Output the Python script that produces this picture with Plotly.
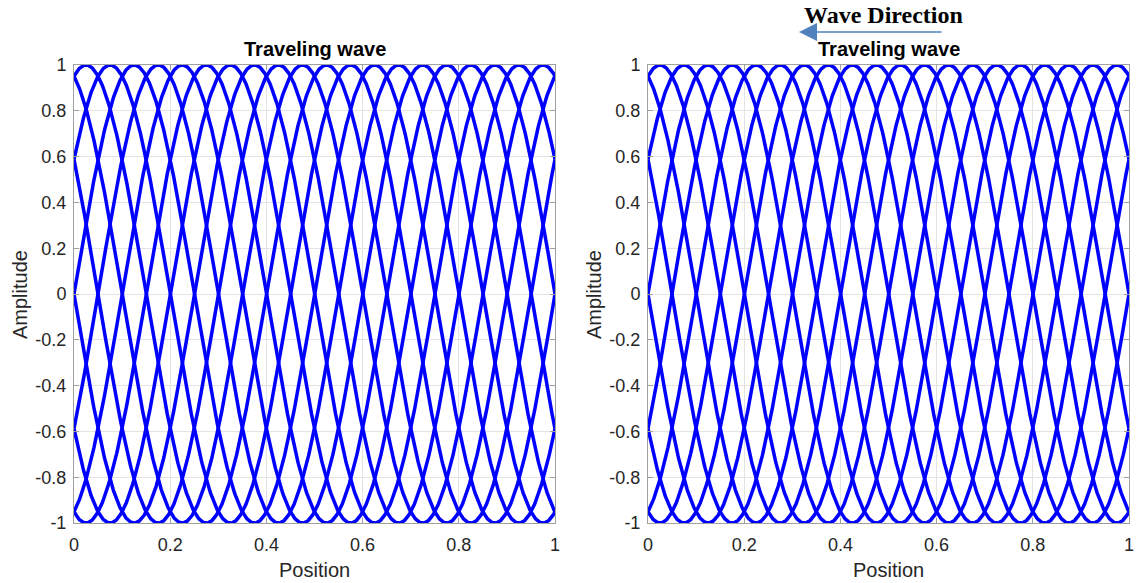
import numpy as np
import plotly.graph_objects as go

# ---- data ----
wavelength = 0.5                      # spatial period of the wave
amplitude = 1.0
phase_steps = [0, 1, 2, 3, 4, 5, 6, 7, 8, 9]   # snapshots, each shifted by pi/5
phase_unit = np.pi / 5
x_ticks = [0, 0.2, 0.4, 0.6, 0.8, 1]
x_tick_labels = ["0", "0.2", "0.4", "0.6", "0.8", "1"]
y_ticks = [-1, -0.8, -0.6, -0.4, -0.2, 0, 0.2, 0.4, 0.6, 0.8, 1]
y_tick_labels = ["-1", "-0.8", "-0.6", "-0.4", "-0.2", "0", "0.2", "0.4", "0.6", "0.8", "1"]
panel_titles = ["Traveling wave", "Traveling wave"]
x_label = "Position"
y_label = "Amplitude"
header_text = "Wave Direction"

position = np.linspace(0, 1, 801)

W, H = 1143, 583
fig = go.Figure()

panels = [(74, 555), (648, 1129)]
ylabel_x = [20, 594]
top_px, bot_px = 65, 523
blue = "#0000FF"
sans = "Liberation Sans, Arial"

for i, (xl, xr) in enumerate(panels):
    xa = "x" if i == 0 else "x2"
    ya = "y" if i == 0 else "y2"
    for k in phase_steps:
        y = amplitude * np.sin(2 * np.pi * position / wavelength + k * phase_unit)
        fig.add_trace(go.Scatter(x=position, y=y, mode="lines", xaxis=xa, yaxis=ya,
                                 line=dict(color=blue, width=3.5), showlegend=False,
                                 hoverinfo="skip"))

axis_common = dict(
    showgrid=True, gridcolor="#e3e3e3", gridwidth=1, automargin=False,
    zeroline=False, showline=True, linecolor="#a0a0a0", linewidth=1,
    mirror="ticks", ticks="inside", ticklen=5, tickcolor="#a0a0a0",
    tickfont=dict(family=sans, size=18, color="#262626"),
)

for i, (xl, xr) in enumerate(panels):
    sfx = "" if i == 0 else "2"
    fig.update_layout(**{
        f"xaxis{sfx}": dict(axis_common, domain=[xl / W, xr / W], range=[0, 1],
                            tickvals=x_ticks, ticktext=x_tick_labels,
                            anchor=f"y{sfx}", ticklabelstandoff=5),
        f"yaxis{sfx}": dict(axis_common, domain=[1 - bot_px / H, 1 - top_px / H], range=[-1, 1],
                            tickvals=y_ticks, ticktext=y_tick_labels,
                            anchor=f"x{sfx}", ticklabelstandoff=3),
    })

annotations = []
for i, (xl, xr) in enumerate(panels):
    annotations.append(dict(
        text=f"<b>{panel_titles[i]}</b>", x=(xl + xr) / 2 / W, y=1 - 49 / H,
        xref="paper", yref="paper", showarrow=False, xanchor="center", yanchor="middle",
        font=dict(family=sans, size=20, color="#000000")))
    annotations.append(dict(
        text=x_label, x=(xl + xr) / 2 / W, y=1 - 570 / H,
        xref="paper", yref="paper", showarrow=False, xanchor="center", yanchor="middle",
        font=dict(family=sans, size=20, color="#262626")))
    annotations.append(dict(
        text=y_label, x=ylabel_x[i] / W, y=1 - 295 / H, textangle=-90,
        xref="paper", yref="paper", showarrow=False, xanchor="center", yanchor="middle",
        font=dict(family=sans, size=20, color="#262626")))

annotations.append(dict(
    text=f"<b>{header_text}</b>", x=883 / W, y=1 - 15 / H, xref="paper", yref="paper",
    showarrow=False, xanchor="center", yanchor="middle",
    font=dict(family="Liberation Serif, Times New Roman", size=24, color="#000000")))

annotations.append(dict(
    text="", x=799 / W, y=1 - 32 / H, ax=144, ay=0,
    xref="paper", yref="paper", axref="pixel", ayref="pixel",
    showarrow=True, arrowhead=2, arrowsize=2.4, arrowwidth=1.5, arrowcolor="#4f81bd"))

fig.update_layout(
    width=W, height=H, margin=dict(l=0, r=0, t=0, b=0),
    paper_bgcolor="white", plot_bgcolor="white",
    annotations=annotations,
)

fig.write_html("out.html")
